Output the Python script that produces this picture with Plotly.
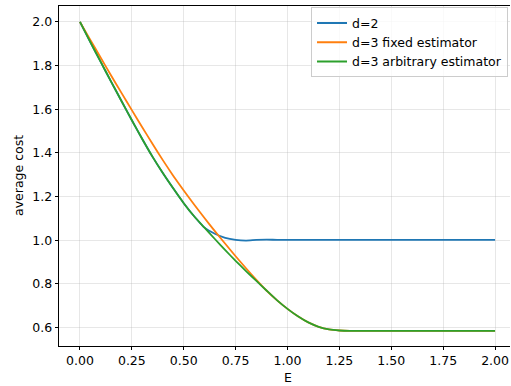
import plotly.graph_objects as go

E = [0.00, 0.05, 0.10, 0.15, 0.20, 0.25, 0.30, 0.35, 0.40, 0.45, 0.50, 0.55, 0.60,
     0.65, 0.70, 0.75, 0.80, 0.85, 0.90, 0.95, 1.00, 1.05, 1.10, 1.15, 1.20, 1.25,
     1.30, 1.40, 1.50, 1.60, 1.70, 1.80, 1.90, 2.00]

d2 = [2.000, 1.908, 1.817, 1.727, 1.638, 1.550, 1.464, 1.382, 1.307, 1.237, 1.170, 1.110, 1.058,
      1.030, 1.011, 1.002, 0.999, 1.002, 1.003, 1.002, 1.002, 1.002, 1.002, 1.002, 1.002, 1.002,
      1.002, 1.002, 1.002, 1.002, 1.002, 1.002, 1.002, 1.002]

d3_fixed = [2.000, 1.918, 1.836, 1.755, 1.675, 1.596, 1.518, 1.441, 1.366, 1.295, 1.228, 1.164, 1.102,
            1.042, 0.984, 0.927, 0.872, 0.819, 0.769, 0.725, 0.686, 0.652, 0.624, 0.604, 0.592, 0.587,
            0.585, 0.585, 0.585, 0.585, 0.585, 0.585, 0.585, 0.585]

d3_arb = [2.000, 1.908, 1.817, 1.727, 1.638, 1.550, 1.464, 1.382, 1.307, 1.237, 1.170, 1.110, 1.058,
          1.006, 0.955, 0.906, 0.859, 0.814, 0.769, 0.725, 0.686, 0.652, 0.624, 0.604, 0.592, 0.587,
          0.585, 0.585, 0.585, 0.585, 0.585, 0.585, 0.585, 0.585]

x_ticks = [0.0, 0.25, 0.5, 0.75, 1.0, 1.25, 1.5, 1.75, 2.0]
x_tick_labels = ["0.00", "0.25", "0.50", "0.75", "1.00", "1.25", "1.50", "1.75", "2.00"]
y_ticks = [0.6, 0.8, 1.0, 1.2, 1.4, 1.6, 1.8, 2.0]
y_tick_labels = ["0.6", "0.8", "1.0", "1.2", "1.4", "1.6", "1.8", "2.0"]

series = [
    ("d=2", d2, "#1f77b4"),
    ("d=3 fixed estimator", d3_fixed, "#ff7f0e"),
    ("d=3 arbitrary estimator", d3_arb, "#2ca02c"),
]

font = dict(family="DejaVu Sans", size=12.5, color="black")

fig = go.Figure()
for name, vals, color in series:
    fig.add_trace(go.Scatter(x=E, y=vals, mode="lines", name=name,
                             line=dict(color=color, width=1.8, shape="spline", smoothing=0.6)))

grid = "rgba(176,176,176,0.3)"
fig.update_layout(
    width=511, height=386,
    margin=dict(l=59, r=1, t=6, b=40),
    paper_bgcolor="white", plot_bgcolor="white",
    font=font,
    showlegend=True,
    legend=dict(x=0.9956, y=0.996, xanchor="right", yanchor="top",
                bgcolor="rgba(255,255,255,0.8)", bordercolor="#cccccc", borderwidth=1,
                font=font, tracegroupgap=0),
    xaxis=dict(range=[-0.101, 2.072], tickvals=x_ticks, ticktext=x_tick_labels,
               showgrid=True, gridcolor=grid, gridwidth=0.8, zeroline=False,
               showline=True, linecolor="black", linewidth=0.8, mirror=True,
               ticks="outside", ticklen=3.5, tickwidth=0.8, tickcolor="black"),
    yaxis=dict(range=[0.516, 2.073], tickvals=y_ticks, ticktext=y_tick_labels,
               showgrid=True, gridcolor=grid, gridwidth=0.8, zeroline=False,
               showline=True, linecolor="black", linewidth=0.8, mirror=False,
               ticks="outside", ticklen=3.5, tickwidth=0.8, tickcolor="black"),
    annotations=[
        dict(text="E", xref="paper", yref="paper", x=0.5067, y=-0.092,
             xanchor="center", yanchor="middle", showarrow=False, font=font),
        dict(text="average cost", xref="paper", yref="paper", x=-0.0909, y=0.5,
             xanchor="center", yanchor="middle", textangle=-90, showarrow=False, font=font),
    ],
)

fig.write_html("out.html")
